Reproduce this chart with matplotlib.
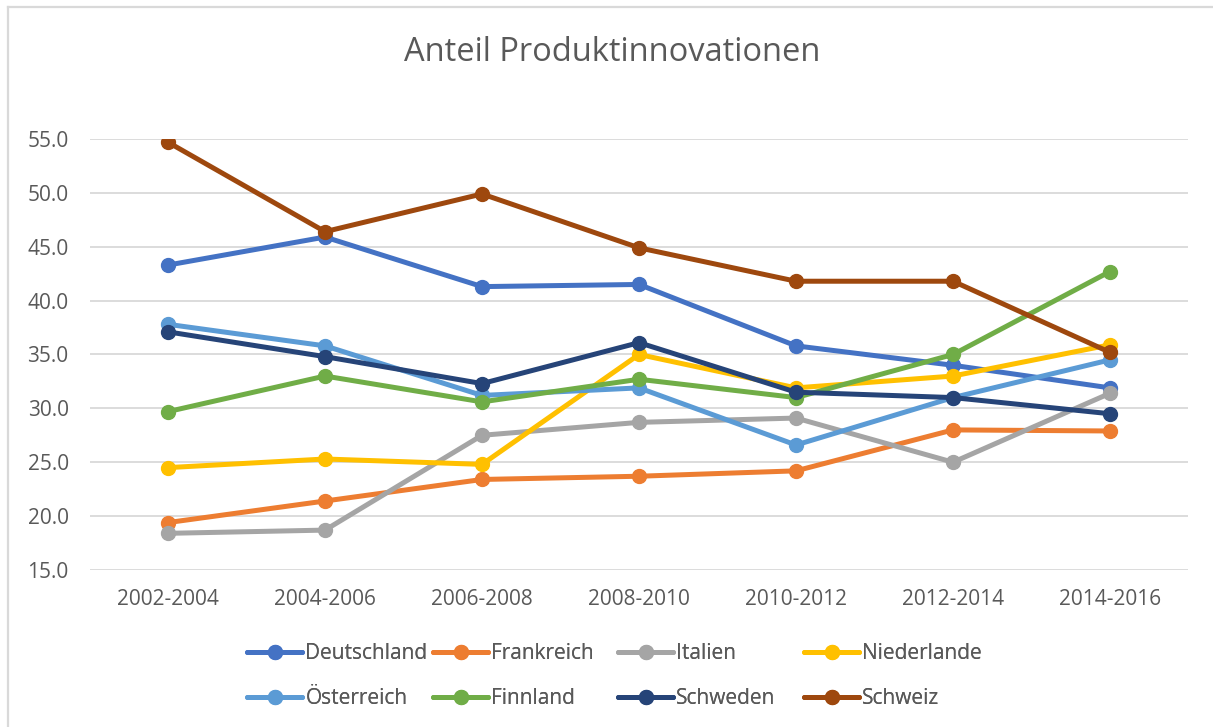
import matplotlib
matplotlib.use('Agg')
import matplotlib.pyplot as plt
from matplotlib.lines import Line2D

plt.rcParams['font.family'] = ['Open Sans', 'DejaVu Sans']

periods = ['2002-2004', '2004-2006', '2006-2008', '2008-2010',
           '2010-2012', '2012-2014', '2014-2016']

deutschland = [43.3, 45.9, 41.3, 41.5, 35.8, 34.0, 31.9]
frankreich = [19.4, 21.4, 23.4, 23.7, 24.2, 28.0, 27.9]
italien = [18.4, 18.7, 27.5, 28.7, 29.1, 25.0, 31.4]
niederlande = [24.5, 25.3, 24.8, 35.0, 31.9, 33.0, 35.9]
oesterreich = [37.8, 35.8, 31.2, 31.9, 26.6, 31.0, 34.5]
finnland = [29.7, 33.0, 30.6, 32.7, 31.0, 35.0, 42.7]
schweden = [37.1, 34.8, 32.3, 36.1, 31.5, 31.0, 29.5]
schweiz = [54.7, 46.4, 49.9, 44.9, 41.8, 41.8, 35.2]

series = [
    ('Deutschland', deutschland, '#4472C4'),
    ('Frankreich', frankreich, '#ED7D31'),
    ('Italien', italien, '#A5A5A5'),
    ('Niederlande', niederlande, '#FFC000'),
    ('Österreich', oesterreich, '#5B9BD5'),
    ('Finnland', finnland, '#70AD47'),
    ('Schweden', schweden, '#264478'),
    ('Schweiz', schweiz, '#9E480E'),
]

text_col = '#595959'
grid_col = '#D9D9D9'

fig = plt.figure(figsize=(12.13, 7.27), dpi=100)
ax = fig.add_axes([0.0738, 0.216, 0.906, 0.5928])

x = range(len(periods))
handles = []
for name, vals, col in series:
    line, = ax.plot(x, vals, color=col, lw=3.6, marker='o', ms=10,
                    solid_capstyle='round', label=name)
    handles.append(line)

ax.set_xlim(-0.5, len(periods) - 0.5)
ax.set_ylim(15, 55)
ax.set_yticks([15, 20, 25, 30, 35, 40, 45, 50, 55])
ax.set_yticklabels([f'{v:.1f}' for v in ax.get_yticks()])
ax.set_xticks(list(x))
ax.set_xticklabels(periods)
ax.grid(axis='y', color=grid_col, lw=1.3)
ax.set_axisbelow(True)
for s in ax.spines.values():
    s.set_visible(False)
ax.tick_params(axis='both', length=0, labelsize=15, labelcolor=text_col)
ax.tick_params(axis='y', pad=15)
ax.tick_params(axis='x', pad=14)

fig.text(0.505, 0.928, 'Anteil Produktinnovationen', ha='center', va='center',
         fontsize=23.5, color=text_col)

# legend: four columns of two rows, placed like the Excel legend
col_starts = [247, 433, 618, 804]
for i, xs in enumerate(col_starts):
    leg = fig.legend(handles=[handles[i], handles[i + 4]], loc='center left',
                     bbox_to_anchor=(xs / 1213, 0.0702), frameon=False,
                     fontsize=15, handlelength=2.65, handletextpad=0.15,
                     labelspacing=1.15, borderpad=0, borderaxespad=0,
                     labelcolor=text_col)
    fig.add_artist(leg)

# chart area border (only top and left visible in the crop)
fig.add_artist(Line2D([8 / 1213, 1], [1 - 7 / 727, 1 - 7 / 727],
                      color=grid_col, lw=1.6, transform=fig.transFigure))
fig.add_artist(Line2D([8 / 1213, 8 / 1213], [0, 1 - 7 / 727],
                      color=grid_col, lw=1.6, transform=fig.transFigure))

fig.savefig('out.png', dpi=100)
